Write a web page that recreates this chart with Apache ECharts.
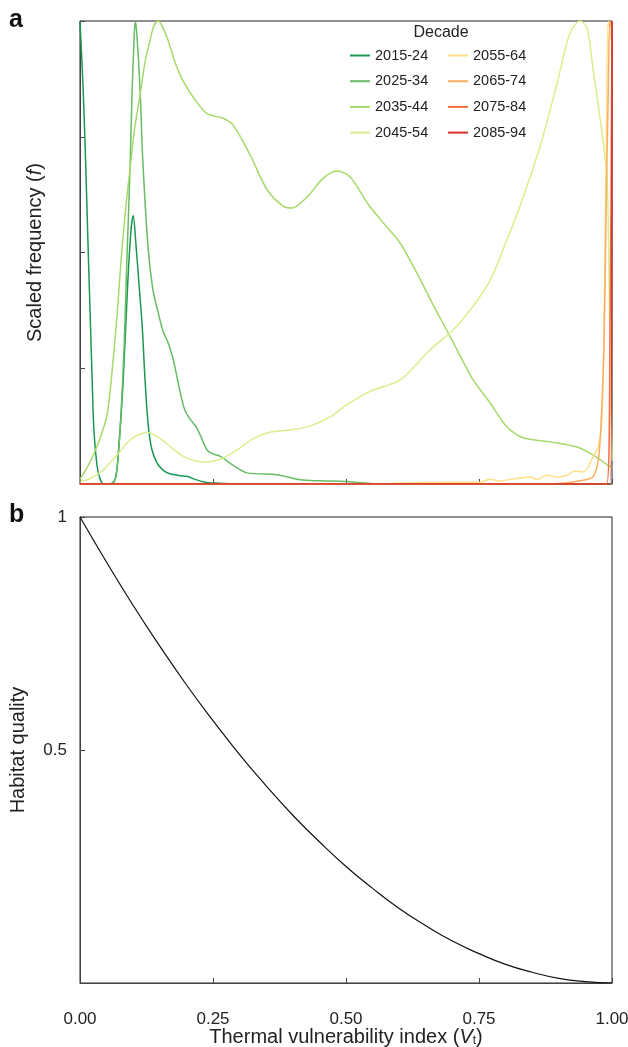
<!DOCTYPE html>
<html>
<head>
<meta charset="utf-8">
<script src="https://cdn.jsdelivr.net/npm/echarts@6/dist/echarts.min.js"></script>
<style>
html,body{margin:0;padding:0;background:#fff;}
#chart{width:628px;height:1047px;}
</style>
</head>
<body>
<div id="chart"></div>
<script>
// ---- Panel a: scaled frequency by decade ----
const decades = ['2015-24','2025-34','2035-44','2045-54','2055-64','2065-74','2075-84','2085-94'];
const colors = ['#1a9850','#66bd63','#a6d96a','#d9ef8b','#fee08b','#fdae61','#f46d43','#d73027'];

const v2015 = [0,0.006,0.011,0.015,0.019,0.023,0.026,0.032,0.038,0.045,0.06,0.068,0.073,0.081,0.09,0.096,0.1,0.105,0.111,0.117,0.122,0.128,0.135,0.145,0.156,0.169,0.188,0.203,0.216,0.235,0.254,0.3,0.5,0.75,1.0];
const f2015 = [1.0,0.85,0.68,0.52,0.37,0.22,0.12,0.04,0.01,0.0,0.0,0.02,0.08,0.22,0.44,0.55,0.58,0.52,0.43,0.34,0.23,0.13,0.075,0.045,0.03,0.022,0.018,0.016,0.01,0.004,0.002,0,0,0,0];

const v2025 = [0,0.056,0.066,0.071,0.077,0.083,0.088,0.094,0.098,0.102,0.104,0.107,0.113,0.118,0.128,0.137,0.147,0.156,0.164,0.175,0.188,0.197,0.207,0.22,0.239,0.248,0.263,0.288,0.314,0.37,0.414,0.451,0.508,0.564,1.0];
const f2025 = [0,0,0.01,0.05,0.15,0.3,0.48,0.68,0.85,0.97,1.0,0.97,0.85,0.7,0.51,0.42,0.37,0.33,0.31,0.27,0.2,0.16,0.14,0.12,0.073,0.066,0.06,0.04,0.024,0.02,0.009,0.007,0.005,0,0];

const v2035 = [0,0.013,0.024,0.038,0.051,0.06,0.07,0.077,0.085,0.094,0.103,0.113,0.122,0.132,0.139,0.147,0.154,0.165,0.179,0.194,0.216,0.239,0.269,0.288,0.32,0.352,0.382,0.398,0.427,0.457,0.483,0.508,0.54,0.57,0.602,0.633,0.667,0.695,0.72,0.739,0.771,0.803,0.833,0.883,0.934,0.964,0.992,1.0];
const f2035 = [0.01,0.035,0.06,0.1,0.15,0.24,0.37,0.48,0.585,0.68,0.77,0.84,0.91,0.96,0.99,1.0,0.99,0.96,0.91,0.87,0.83,0.80,0.79,0.775,0.71,0.635,0.60,0.596,0.62,0.66,0.676,0.663,0.607,0.564,0.52,0.456,0.38,0.32,0.265,0.225,0.175,0.123,0.1,0.091,0.08,0.063,0.041,0.035];

const v2045 = [0,0.019,0.038,0.056,0.075,0.094,0.113,0.126,0.141,0.16,0.179,0.197,0.216,0.235,0.254,0.273,0.301,0.329,0.357,0.398,0.432,0.47,0.5,0.545,0.602,0.658,0.699,0.733,0.771,0.8,0.827,0.865,0.897,0.921,0.94,0.953,0.964,0.981,0.991,0.996,1.0];
const f2045 = [0.005,0.012,0.025,0.045,0.07,0.095,0.108,0.112,0.105,0.09,0.072,0.058,0.05,0.047,0.05,0.058,0.078,0.1,0.112,0.117,0.125,0.145,0.17,0.2,0.225,0.29,0.33,0.375,0.44,0.52,0.6,0.73,0.866,0.974,1.0,0.985,0.9,0.76,0.65,0.3,0.05];

const v2055 = [0,0.55,0.6,0.65,0.7,0.752,0.771,0.789,0.808,0.827,0.846,0.859,0.878,0.897,0.915,0.93,0.945,0.953,0.964,0.974,0.981,0.985,0.989,0.993,1.0];
const f2055 = [0,0,0.002,0.003,0.004,0.004,0.01,0.006,0.01,0.013,0.015,0.01,0.019,0.015,0.019,0.028,0.026,0.032,0.058,0.08,0.14,0.35,0.7,1.0,0.95];

const v2065 = [0,0.85,0.9,0.945,0.964,0.974,0.979,0.985,0.989,0.993,0.996,1.0];
const f2065 = [0,0,0.001,0.008,0.015,0.05,0.12,0.3,0.6,0.85,1.0,0.98];

const v2075 = [0,0.99,0.996,1.0];
const f2075 = [0,0,0.3,1.0];

const v2085 = [0,0.997,1.0];
const f2085 = [0,0,1.0];

// ---- Panel b: habitat quality ----
const hV = [0,0.05,0.1,0.15,0.2,0.25,0.3,0.35,0.4,0.45,0.5,0.55,0.6,0.65,0.7,0.75,0.8,0.85,0.9,0.95,1.0];
const hQ = [1,0.903,0.81,0.723,0.64,0.563,0.49,0.423,0.36,0.303,0.25,0.203,0.16,0.123,0.09,0.063,0.04,0.023,0.01,0.003,0];

const xTickLabels = ['0.00','0.25','0.50','0.75','1.00'];

const vs = [v2015,v2025,v2035,v2045,v2055,v2065,v2075,v2085];
const fs = [f2015,f2025,f2035,f2045,f2055,f2065,f2075,f2085];
const zip = (a,b) => a.map((x,i)=>[x,b[i]]);

const FONT = '"Liberation Sans", Arial, Helvetica, sans-serif';
const chart = echarts.init(document.getElementById('chart'));

const seriesA = decades.map((d,i)=>({
  name: d, type:'line', xAxisIndex:0, yAxisIndex:0,
  data: zip(vs[i], fs[i]), showSymbol:false, smooth:0.3,
  lineStyle:{width:1.5, color:colors[i]}, itemStyle:{color:colors[i]}
}));

const axisCommon = {
  type:'value', min:0, max:1,
  axisLine:{show:true, lineStyle:{color:'#444', width:1}},
  axisTick:{show:true, inside:true, length:5, lineStyle:{color:'#444'}},
  splitLine:{show:false}
};

const option = {
  animation:false,
  backgroundColor:'#fff',
  textStyle:{fontFamily:FONT},
  grid:[
    {left:80, top:21, width:532, height:463, show:true, borderColor:'#222', borderWidth:1, backgroundColor:'transparent', containLabel:false, outerBoundsMode:'none'},
    {left:80, top:517, width:532, height:466, show:true, borderColor:'#222', borderWidth:1, backgroundColor:'transparent', containLabel:false, outerBoundsMode:'none'}
  ],
  xAxis:[
    Object.assign({}, axisCommon, {gridIndex:0, interval:0.25, axisLabel:{show:false}}),
    Object.assign({}, axisCommon, {gridIndex:1, interval:0.25,
      axisLabel:{fontSize:17, color:'#222', margin:28, fontFamily:FONT,
        formatter:(v)=>xTickLabels[Math.round(v*4)]},
      name:'Thermal vulnerability index ({i|V}{s|t})', nameLocation:'middle', nameGap:44, nameMoveOverlap:false,
      nameTextStyle:{fontSize:20, lineHeight:20, color:'#222', fontFamily:FONT,
        rich:{i:{fontStyle:'italic', fontSize:20, lineHeight:20, color:'#222', fontFamily:FONT},
              s:{fontSize:12, lineHeight:12, color:'#222', fontFamily:FONT, verticalAlign:'bottom'}}}})
  ],
  yAxis:[
    Object.assign({}, axisCommon, {gridIndex:0, interval:0.25, axisLabel:{show:false},
      name:'Scaled frequency ({i|f})', nameLocation:'middle', nameGap:35, nameMoveOverlap:false,
      nameTextStyle:{fontSize:20, color:'#222', fontFamily:FONT,
        rich:{i:{fontStyle:'italic', fontSize:20, color:'#222', fontFamily:FONT}}}}),
    Object.assign({}, axisCommon, {gridIndex:1, interval:0.5,
      axisLabel:{fontSize:17, color:'#222', margin:13, fontFamily:FONT,
        formatter:(v)=> v===0 ? '' : String(v)},
      name:'Habitat quality', nameLocation:'middle', nameGap:52, nameMoveOverlap:false,
      nameTextStyle:{fontSize:20, color:'#222', fontFamily:FONT}})
  ],
  legend:[
    {data:decades.slice(0,4), orient:'vertical', left:345, top:43, itemWidth:20, itemHeight:2, icon:'rect',
     itemGap:10.7, textStyle:{fontSize:14.5, color:'#222', fontFamily:FONT, lineHeight:14}},
    {data:decades.slice(4), orient:'vertical', left:443, top:43, itemWidth:20, itemHeight:2, icon:'rect',
     itemGap:10.7, textStyle:{fontSize:14.5, color:'#222', fontFamily:FONT, lineHeight:14}}
  ],
  graphic:[
    {type:'text', left:9, top:8, style:{text:'a', font:'bold 25px '+FONT, fill:'#111'}},
    {type:'text', left:9, top:503, style:{text:'b', font:'bold 25px '+FONT, fill:'#111'}},
    {type:'text', x:441, y:33, style:{text:'Decade', font:'16px '+FONT, fill:'#222', align:'center', verticalAlign:'middle'}}
  ],
  series: seriesA.concat([{
    name:'Habitat quality', type:'line', xAxisIndex:1, yAxisIndex:1,
    data: zip(hV, hQ), showSymbol:false, smooth:true,
    lineStyle:{width:1.2, color:'#111'}, itemStyle:{color:'#111'}
  }])
};
chart.setOption(option);
</script>
</body>
</html>
